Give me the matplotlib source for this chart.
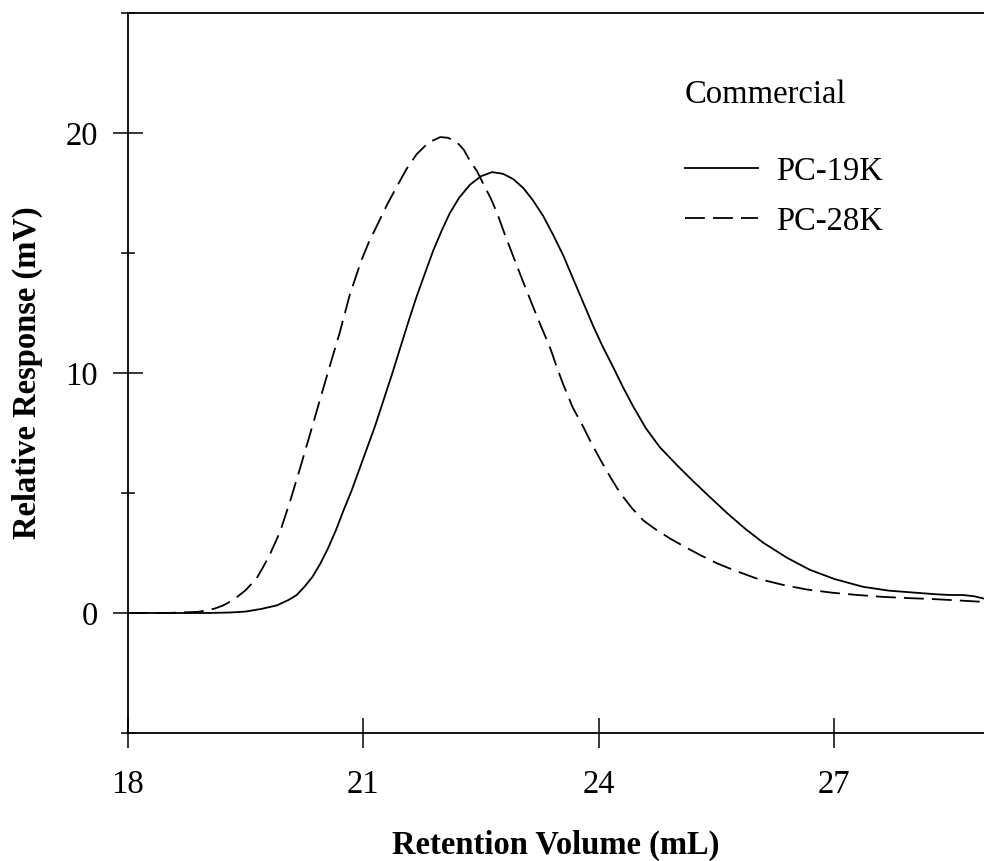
import numpy as np
import matplotlib
matplotlib.use("Agg")
from matplotlib import pyplot as plt
from matplotlib.ticker import MultipleLocator

plt.rcParams['font.family'] = ['Liberation Serif', 'DejaVu Serif']

# PC-28K (dashed)
vol_28k = [18.0, 18.5, 18.9, 19.1, 19.21, 19.34, 19.5, 19.64, 19.72, 19.81, 19.94, 20.07,
           20.19, 20.32, 20.47, 20.60, 20.70, 20.83, 20.98, 21.07, 21.17, 21.30, 21.43,
           21.55, 21.68, 21.83, 21.98, 22.08, 22.19, 22.28, 22.36, 22.45, 22.53, 22.62,
           22.70, 22.80, 22.91, 23.03, 23.16, 23.27, 23.38, 23.47, 23.55, 23.67, 23.80,
           23.91, 24.02, 24.15, 24.27, 24.42, 24.57, 24.74, 24.91, 25.10, 25.29, 25.50,
           25.71, 26.0, 26.35, 26.65, 26.99, 27.3, 27.63, 27.95, 28.26, 28.6, 28.91]
resp_28k = [0.0, 0.0, 0.05, 0.18, 0.31, 0.54, 0.95, 1.45, 1.9, 2.45, 3.4, 4.7,
            6.0, 7.45, 9.15, 10.6, 11.7, 13.3, 14.74, 15.45, 16.12, 17.0, 17.79,
            18.5, 19.12, 19.6, 19.83, 19.8, 19.62, 19.3, 18.83, 18.4, 17.87, 17.3,
            16.70, 15.8, 14.86, 13.85, 12.78, 11.9, 11.05, 10.2, 9.5, 8.55, 7.77,
            7.05, 6.39, 5.65, 5.01, 4.38, 3.85, 3.45, 3.1, 2.75, 2.42, 2.08,
            1.80, 1.45, 1.17, 0.98, 0.84, 0.75, 0.67, 0.62, 0.58, 0.52, 0.46]

# PC-19K (solid)
vol_19k = [18.0, 18.5, 19.0, 19.3, 19.5, 19.7, 19.9, 20.05, 20.15, 20.25, 20.35, 20.45,
           20.55, 20.65, 20.75, 20.85, 20.95, 21.05, 21.15, 21.27, 21.37, 21.47, 21.58,
           21.68, 21.79, 21.89, 22.0, 22.10, 22.22, 22.36, 22.50, 22.64, 22.78, 22.91,
           23.04, 23.16, 23.29, 23.42, 23.55, 23.67, 23.80, 23.93, 24.05, 24.18, 24.31,
           24.44, 24.60, 24.78, 25.0, 25.20, 25.42, 25.64, 25.87, 26.10, 26.40, 26.69,
           27.0, 27.37, 27.7, 28.06, 28.3, 28.48, 28.64, 28.78, 28.91]
resp_19k = [0.0, 0.0, 0.0, 0.02, 0.06, 0.17, 0.32, 0.55, 0.75, 1.1, 1.5, 2.05,
            2.7, 3.45, 4.3, 5.1, 6.0, 6.9, 7.8, 9.0, 10.0, 11.05, 12.2,
            13.2, 14.2, 15.1, 15.95, 16.65, 17.3, 17.85, 18.2, 18.37, 18.3, 18.08,
            17.7, 17.2, 16.55, 15.75, 14.88, 13.95, 12.95, 11.95, 11.1, 10.27, 9.4,
            8.6, 7.7, 6.9, 6.15, 5.5, 4.82, 4.15, 3.5, 2.92, 2.3, 1.80,
            1.42, 1.09, 0.93, 0.84, 0.78, 0.75, 0.75, 0.7, 0.6]

x_ticks = [18, 21, 24, 27]
y_ticks = [0, 10, 20]

fs = 23.5
fig = plt.figure(figsize=(9.84, 8.61), dpi=100)
ax = fig.add_axes([128/984, 128/861, (984-128)/984, (733-13)/861])

ax.plot(vol_19k, resp_19k, color='black', lw=1.3, label='PC-19K')
ax.plot(vol_28k, resp_28k, color='black', lw=1.3, dashes=(11, 4.5), label='PC-28K')

ax.set_xlim(18, 28.91)
ax.set_ylim(-5, 25)
ax.set_xticks(x_ticks)
ax.set_yticks(y_ticks)
ax.yaxis.set_minor_locator(MultipleLocator(5))
ax.spines['right'].set_visible(False)
for s in ['left', 'bottom', 'top']:
    ax.spines[s].set_linewidth(1.3)
ax.tick_params(which='major', direction='inout', length=21, width=1.1, labelsize=fs)
ax.tick_params(axis='x', which='major', pad=16)
ax.tick_params(axis='y', which='major', pad=11)
ax.tick_params(which='minor', direction='inout', length=10, width=1.1)

ax.set_xlabel('Retention Volume (mL)', fontsize=fs, fontweight='bold')
ax.set_ylabel('Relative Response (mV)', fontsize=fs, fontweight='bold')
ax.xaxis.set_label_coords(0.5, -0.135)
ax.yaxis.set_label_coords(-0.099, 0.5)

ax.text(0.6507, 0.887, 'Commercial', transform=ax.transAxes, fontsize=fs,
        ha='left', va='center')
ax.legend(loc='upper left', bbox_to_anchor=(0.6507, 0.801), frameon=False,
          fontsize=fs, borderpad=0, borderaxespad=0, handlelength=2.24,
          handletextpad=0.55, labelspacing=0.6)

plt.savefig('out.png', dpi=100)
